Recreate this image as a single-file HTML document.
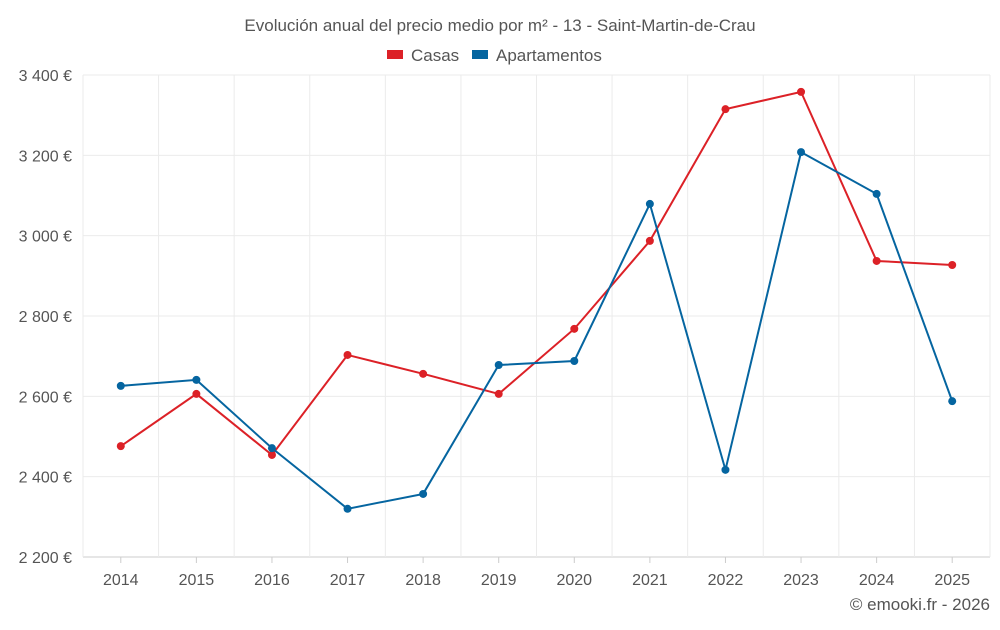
<!DOCTYPE html>
<html><head><meta charset="utf-8"><style>
body{margin:0;background:#fff;font-family:"Liberation Sans",sans-serif}
svg text{font-family:"Liberation Sans",sans-serif;fill:#555}
</style></head><body>
<svg id="chart" width="1000" height="625" xmlns="http://www.w3.org/2000/svg">
<text x="500" y="31" text-anchor="middle" font-size="17">Evolución anual del precio medio por m² - 13 - Saint-Martin-de-Crau</text>
<g><rect x="387" y="50" width="16" height="9" fill="#dc2127"/><text x="411" y="61" font-size="17">Casas</text></g>
<g><rect x="472" y="50" width="16" height="9" fill="#0565a0"/><text x="496" y="61" font-size="17">Apartamentos</text></g>
<g id="grid"></g>
<g id="yaxis"></g>
<g id="xaxis"></g>
<g id="series"></g>
<text x="990" y="610" text-anchor="end" font-size="17">© emooki.fr - 2026</text>
</svg>
<script>
const years=[2014,2015,2016,2017,2018,2019,2020,2021,2022,2023,2024,2025];
const casas=[2476,2606,2454,2703,2656,2606,2768,2987,3315,3358,2937,2927];
const apartamentos=[2626,2641,2471,2320,2357,2678,2688,3079,2417,3208,3104,2588];
const yTicks=[2200,2400,2600,2800,3000,3200,3400];
const yTickLabels=["2 200 €","2 400 €","2 600 €","2 800 €","3 000 €","3 200 €","3 400 €"];
const L=83,R=990,T=75,B=557,yMin=2200,yMax=3400;
const step=(R-L)/years.length;
const x=i=>L+step*(i+0.5);
const y=v=>B-(v-yMin)/(yMax-yMin)*(B-T);
const NS="http://www.w3.org/2000/svg";
function mk(tag,attrs,parent){const e=document.createElementNS(NS,tag);for(const k in attrs)e.setAttribute(k,attrs[k]);parent.appendChild(e);return e;}
const grid=document.getElementById('grid'),ya=document.getElementById('yaxis'),xa=document.getElementById('xaxis'),se=document.getElementById('series');
yTicks.forEach((t,i)=>{
  const l=mk('line',{x1:L,x2:R,y1:y(t),y2:y(t),stroke:i==0?'#ccc':'#ebebeb','stroke-width':1},grid);
  
  
  const tx=mk('text',{x:72,y:y(t)+6,'text-anchor':'end','font-size':16},ya);
  tx.textContent=yTickLabels[i];
  
  
});
for(let i=0;i<=years.length;i++){
  const l=mk('line',{x1:L+step*i,x2:L+step*i,y1:T,y2:B,stroke:'#ebebeb'},grid);
  
  
}
years.forEach((yr,i)=>{
  const tk=mk('line',{x1:x(i),x2:x(i),y1:B,y2:B+6,stroke:'#ccc'},xa);
  
  
  const tx=mk('text',{x:x(i),y:B+28,'text-anchor':'middle','font-size':16},xa);
  tx.textContent=yr;
  
  
});
function draw(vals,color,name){
  const p=mk('polyline',{points:vals.map((v,i)=>x(i)+','+y(v)).join(' '),fill:'none',stroke:color,'stroke-width':2},se);
  
  
  vals.forEach((v,i)=>{
    const c=mk('circle',{cx:x(i),cy:y(v),r:4,fill:color},se);
    
    
  });
}
draw(casas,'#dc2127','casas');
draw(apartamentos,'#0565a0','apartamentos');
</script>
</body></html>
